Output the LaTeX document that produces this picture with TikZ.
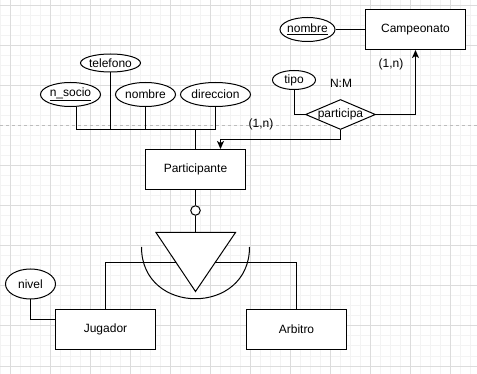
\documentclass[tikz,border=0pt]{standalone}
\usepackage{fontspec}
\setmainfont{Liberation Sans}
\usetikzlibrary{arrows.meta, positioning, shapes.geometric}
\definecolor{erminor}{HTML}{F3F3F3}
\definecolor{ermajor}{HTML}{DCDCDC}
\definecolor{erpage}{HTML}{BDBDBD}

\begin{document}
\begin{tikzpicture}[x=1pt, y=-1pt,
    font=\fontsize{12}{14}\selectfont,
    entity/.style={rectangle, draw=black, fill=white, minimum width=100pt,
                   minimum height=40pt, inner sep=0pt, line width=1pt},
    attrib/.style 2 args={ellipse, draw=black, fill=white, inner sep=-3pt,
                   minimum width=#1, minimum height=#2, line width=1pt},
    relation/.style={diamond, draw=black, fill=white, minimum width=70pt,
                     minimum height=30pt, inner sep=0pt, line width=1pt},
    disjoint/.style={circle, draw=black, fill=white, minimum size=9.5pt,
                     inner sep=0pt, line width=1pt},
    link/.style={line width=1pt, black},
    arrow/.style={link, -{Stealth[length=8pt, width=7pt, inset=2pt]}},
    card/.style={inner sep=0pt}
  ]
    \useasboundingbox (0,0) rectangle (477,374);
    \fill[white] (0,0) rectangle (477,374);
    % grid of the canvas
    \foreach \gx in {0,10,...,470} \draw[erminor, line width=1pt] (\gx,0) -- (\gx,374);
    \foreach \gy in {6,16,...,366} \draw[erminor, line width=1pt] (0,\gy) -- (477,\gy);
    \foreach \gx in {10,50,...,450} \draw[ermajor, line width=1pt] (\gx,0) -- (\gx,374);
    \foreach \gy in {6,46,86,166,206,246,286,326,366} \draw[ermajor, line width=1pt] (0,\gy) -- (477,\gy);
    \draw[erpage, line width=1pt, dash pattern=on 3pt off 3pt] (0,126) -- (477,126);

    \node[entity] (campeonato) at (415.5,29.5) {Campeonato};
    \node[attrib={55pt}{24pt}] (cnombre) at (307.5,29.5) {\underline{nombre}};
    \node[entity] (participante) at (195.5,169.5) {Participante};
    \node[attrib={60pt}{24pt}] (nsocio) at (70.5,94.5) {\underline{n\_socio}};
    \node[attrib={60pt}{18pt}] (telefono) at (110.5,63) {telefono};
    \node[attrib={60pt}{24pt}] (pnombre) at (145.5,94.5) {nombre};
    \node[attrib={70pt}{24pt}] (direccion) at (215.5,94.5) {direccion};
    \node[relation, label={center:participa}] (participa) at (340.5,114.5) {};
    \node[attrib={43pt}{19pt}] (tipo) at (294,80) {tipo};
    \node[entity] (jugador) at (105.5,329.5) {Jugador};
    \node[entity, right=90pt of jugador] (arbitro) {Arbitro};
    \node[attrib={50pt}{30pt}] (nivel) at (30.5,284) {nivel};
    \node[disjoint] (disj) at (195.5,210.5) {};

    \node[card] (cardcamp) at (391,64) {(1,n)};
    \node[card] (cardnm) at (341,83) {N:M};
    \node[card] (cardpart) at (261,124) {(1,n)};

    \coordinate (attrbus) at (195.5,129.5);
    \coordinate (pbend) at (220.5,139.5);
    \coordinate (isatop) at (195.5,232.5);
    \coordinate (split) at (195.5,262.5);

    \draw[link] (cnombre.east) -- (campeonato.west);
    \draw[link] ([xshift=5.5pt]nsocio.south) |- (attrbus);
    \draw[link] (telefono.south) |- (attrbus);
    \draw[link] (pnombre.south) |- (attrbus);
    \draw[link] (direccion.south) |- (attrbus);
    \draw[link] (attrbus) -- (participante.north);
    \draw[link] (tipo.south) |- (participa.west);
    \draw[arrow] (participa.east) -| (campeonato.south);
    \draw[arrow] (participa.south) |- (pbend) -- (participante.north -| pbend);
    \draw[link] (nivel.south) |- ([yshift=10pt]jugador.west);

    \draw[link] (jugador.north) |- (split) -| (arbitro.north);
    \draw[link, fill=white] ([xshift=-39.5pt]isatop) -- ([xshift=40pt]isatop)
        -- ([yshift=-59pt]isatop) -- cycle;
    \draw[link] (141.5,247) .. controls (141.5,316) and (249.5,316) .. (249.5,247);
    \draw[link] (participante.south) -- (disj) -- (isatop);
  \end{tikzpicture}
\end{document}
